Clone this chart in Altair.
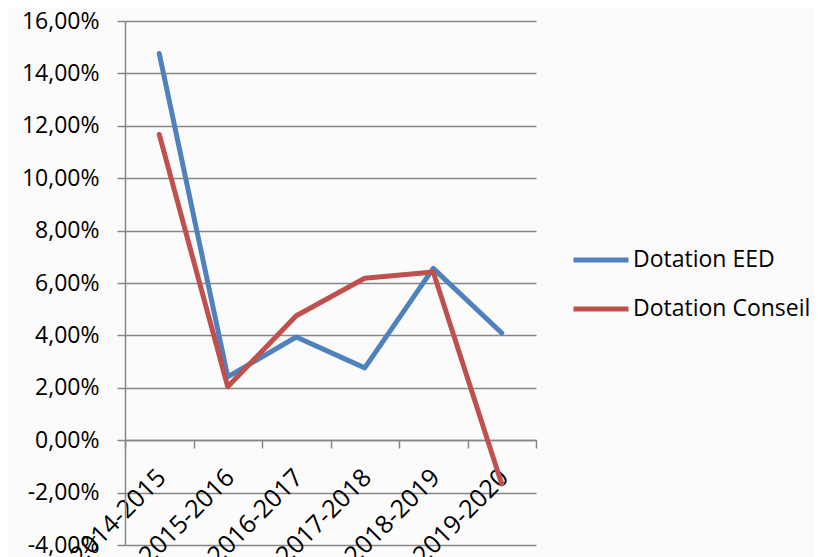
import altair as alt
import pandas as pd

years = ["2014-2015", "2015-2016", "2016-2017", "2017-2018", "2018-2019", "2019-2020"]
eed = [14.76, 2.42, 3.94, 2.76, 6.56, 4.09]
conseil = [11.67, 2.04, 4.75, 6.18, 6.42, -1.67]
series = ["Dotation EED", "Dotation Conseil"]
colors = ["#4F81BD", "#C0504D"]

rows = []
for i, y in enumerate(years):
    rows.append({"annee": y, "serie": series[0], "valeur": eed[i] / 100, "ordre": 0})
    rows.append({"annee": y, "serie": series[1], "valeur": conseil[i] / 100, "ordre": 1})
df = pd.DataFrame(rows)

FONT = "Open Sans"
label_expr = "replace(replace(format(datum.value, '.2%'), '.', ','), '\u2212', '-')"

chart = (
    alt.Chart(df)
    .mark_line(strokeWidth=5, strokeCap="round", strokeJoin="round")
    .encode(
        x=alt.X(
            "annee:N",
            sort=years,
            scale=alt.Scale(type="band", paddingInner=0, paddingOuter=0),
            axis=alt.Axis(
                title=None,
                orient="bottom",
                offset=-105,
                labelAngle=315,
                labelAlign="right",
                labelBaseline="middle",
                labelPadding=25,
                labelOffset=2,
                labelFontSize=25,
                labelFont=FONT,
                labelColor="#000000",
                tickBand="extent",
                tickSize=8,
                tickColor="#868686",
                tickWidth=1.5,
                domainColor="#868686",
                domainWidth=1.5,
                grid=False,
            ),
        ),
        y=alt.Y(
            "valeur:Q",
            scale=alt.Scale(domain=[-0.04, 0.16], nice=False, zero=False),
            axis=alt.Axis(
                title=None,
                values=[-0.04, -0.02, 0, 0.02, 0.04, 0.06, 0.08, 0.10, 0.12, 0.14, 0.16],
                labelExpr=label_expr,
                labelFontSize=23,
                labelFont=FONT,
                labelColor="#000000",
                labelPadding=18,
                tickSize=8,
                tickColor="#868686",
                tickWidth=1.5,
                domainColor="#868686",
                domainWidth=1.5,
                grid=True,
                gridColor="#868686",
                gridWidth=1.5,
            ),
        ),
        color=alt.Color(
            "serie:N",
            sort=series,
            scale=alt.Scale(domain=series, range=colors),
            legend=alt.Legend(
                title=None,
                orient="none",
                legendX=446,
                legendY=209,
                symbolType="stroke",
                symbolSize=3025,
                symbolStrokeWidth=5,
                labelFontSize=23,
                labelFont=FONT,
                labelColor="#000000",
                labelOffset=2,
                labelLimit=0,
                rowPadding=7,
            ),
        ),
        order="ordre:Q",
    )
    .properties(
        width=411,
        height=524,
        autosize=alt.AutoSizeParams(type="none"),
        padding={"left": 117, "top": 13, "right": 279, "bottom": 12},
        background="#fbfbfb",
    )
    .configure_view(stroke=None)
)

chart.save("out.html", embed_options={"renderer": "svg", "actions": False})
